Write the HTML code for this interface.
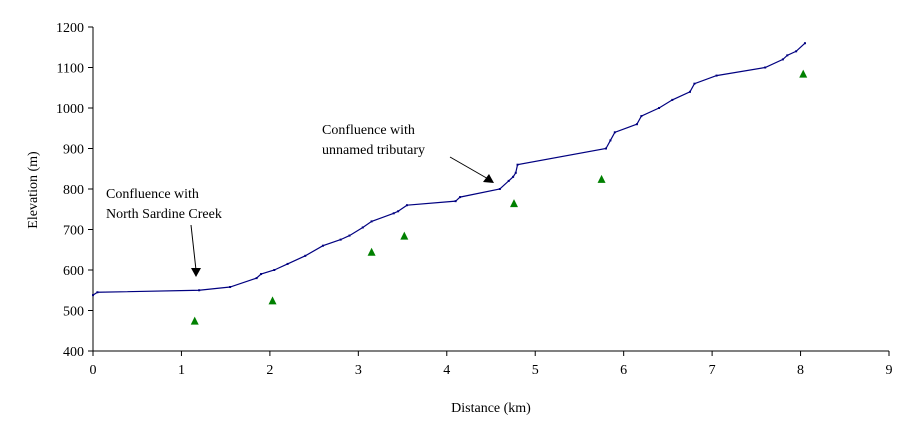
<!DOCTYPE html>
<html><head><meta charset="utf-8"><style>
body{margin:0;background:#fff;font-family:"Liberation Serif",serif;}
svg text{font-family:"Liberation Serif",serif;fill:#000;}
</style></head><body>
<svg id="chart" width="910" height="442" xmlns="http://www.w3.org/2000/svg">
<g id="axes"></g><g id="series"></g>
<g>
<text x="106" y="198" font-size="14">Confluence with</text>
<text x="106" y="218" font-size="14">North Sardine Creek</text>
<line x1="191" y1="225" x2="196" y2="270" stroke="#000" stroke-width="1"/>
<polygon points="191,268 201,268 196,277" fill="#000"/>
<text x="322" y="134" font-size="14">Confluence with</text>
<text x="322" y="154" font-size="14">unnamed tributary</text>
<line x1="450" y1="157" x2="490" y2="180" stroke="#000" stroke-width="1"/>
<polygon points="483,182 494,183 489,174" fill="#000"/>
</g>
</svg>
<script>
const distKm=[0,0.05,1.2,1.55,1.85,1.9,2.05,2.2,2.4,2.6,2.8,2.9,3.05,3.15,3.4,3.45,3.55,4.1,4.15,4.6,4.7,4.75,4.78,4.8,5.8,5.85,5.9,6.15,6.2,6.4,6.55,6.75,6.8,7.05,7.6,7.8,7.85,7.95,8.05];
const elevM=[538,545,550,558,580,590,600,615,635,660,675,685,705,720,740,745,760,770,780,800,820,830,840,860,900,920,940,960,980,1000,1020,1040,1060,1080,1100,1120,1130,1140,1160];
const ptDist=[1.15,2.03,3.15,3.52,4.76,5.75,8.03];
const ptElev=[475,525,645,685,765,825,1085];
const xTicks=[0,1,2,3,4,5,6,7,8,9];
const yTicks=[400,500,600,700,800,900,1000,1100,1200];
const X0=93,X1=889,Y0=351,Y1=27;
const sx=v=>X0+(v-0)/(9-0)*(X1-X0);
const sy=v=>Y0-(v-400)/(1200-400)*(Y0-Y1);
const NS="http://www.w3.org/2000/svg";
function mk(t,a,p){const e=document.createElementNS(NS,t);for(const k in a)e.setAttribute(k,a[k]);p.appendChild(e);return e;}
const ax=document.getElementById('axes'),se=document.getElementById('series');
let e=mk('line',{x1:X0,y1:Y1,x2:X0,y2:Y0,stroke:'#000'},ax);


e=mk('line',{x1:X0,y1:Y0,x2:X1,y2:Y0,stroke:'#000'},ax);


xTicks.forEach(v=>{mk('line',{x1:sx(v),y1:Y0,x2:sx(v),y2:Y0+5,stroke:'#000'},ax);
const t=mk('text',{x:sx(v),y:Y0+23,'font-size':14,'text-anchor':'middle'},ax);t.textContent=v;

});
yTicks.forEach(v=>{mk('line',{x1:X0-5,y1:sy(v),x2:X0,y2:sy(v),stroke:'#000'},ax);
const t=mk('text',{x:X0-9,y:sy(v)+5,'font-size':14,'text-anchor':'end'},ax);t.textContent=v;

});
let t=mk('text',{x:491,y:412,'font-size':14,'text-anchor':'middle'},ax);t.textContent='Distance (km)';


t=mk('text',{x:0,y:0,'font-size':14,'text-anchor':'middle',transform:'translate(37,190) rotate(-90)'},ax);t.textContent='Elevation (m)';


const pl=mk('polyline',{points:distKm.map((d,i)=>sx(d)+','+sy(elevM[i])).join(' '),fill:'none',stroke:'#000080','stroke-width':1.2},se);


distKm.forEach((d,i)=>{const r=mk('rect',{x:sx(d)-1,y:sy(elevM[i])-1,width:2,height:2,fill:'#000080'},se);

});
ptDist.forEach((d,i)=>{const x=sx(d),y=sy(ptElev[i]);
const p=mk('polygon',{points:`${x-4},${y+4} ${x+4},${y+4} ${x},${y-4}`,fill:'#008000'},se);

});
</script>
</body></html>
